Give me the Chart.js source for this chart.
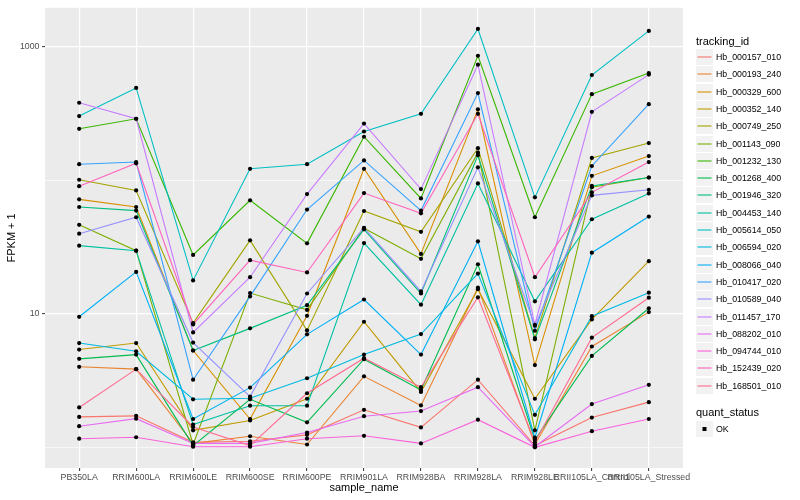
<!DOCTYPE html>
<html>
<head>
<meta charset="utf-8">
<script src="https://cdn.jsdelivr.net/npm/chart.js@4.4.0/dist/chart.umd.min.js"></script>
<style>
html,body{margin:0;padding:0;background:#fff;}
#wrap{position:relative;width:800px;height:500px;font-family:"Liberation Sans",Arial,Helvetica,sans-serif;}
#c{position:absolute;left:0;top:0;}
.ttl{position:absolute;font-size:11px;line-height:12px;color:#000;white-space:nowrap;}
.lab{position:absolute;font-size:8.8px;line-height:10px;color:#000;white-space:nowrap;}
</style>
</head>
<body>
<div id="wrap">
<canvas id="c" width="800" height="500"></canvas>
<div id="legend"></div>
</div>
<script>
const FONT = '"Liberation Sans", Arial, Helvetica, sans-serif';

const categories = ["PB350LA","RRIM600LA","RRIM600LE","RRIM600SE","RRIM600PE","RRIM901LA","RRIM928BA","RRIM928LA","RRIM928LE","RRII105LA_Control","RRII105LA_Stressed"];

const trackingIds = ["Hb_000157_010","Hb_000193_240","Hb_000329_600","Hb_000352_140","Hb_000749_250","Hb_001143_090","Hb_001232_130","Hb_001268_400","Hb_001946_320","Hb_004453_140","Hb_005614_050","Hb_006594_020","Hb_008066_040","Hb_010417_020","Hb_010589_040","Hb_011457_170","Hb_088202_010","Hb_094744_010","Hb_152439_020","Hb_168501_010"];

const colors = ["#F8766D","#EA8331","#D89000","#C09B00","#A3A500","#7CAE00","#39B600","#00BB4E","#00BF7D","#00C1A3","#00BFC4","#00BAE0","#00B0F6","#35A2FF","#9590FF","#C77CFF","#E76BF3","#FA62DB","#FF62BC","#FF6C91"];

// FPKM + 1 values, one array per tracking_id, in category order
const Hb_000157_010 = [1.69, 1.72, 1.09, 1.11, 1.24, 1.91, 1.41, 3.21, 1.03, 1.67, 2.18];
const Hb_000193_240 = [4.01, 3.85, 1.07, 1.21, 1.05, 3.40, 2.06, 15.7, 1.05, 5.69, 10.3];
const Hb_000329_600 = [72.0, 63.1, 5.31, 1.63, 9.66, 122, 28.1, 340, 4.13, 108, 152];
const Hb_000352_140 = [5.40, 6.04, 1.34, 1.59, 2.31, 8.72, 2.60, 15.3, 2.31, 9.07, 24.8];
const Hb_000749_250 = [101, 84.0, 8.51, 35.5, 7.51, 58.9, 41.1, 174, 6.59, 147, 190];
const Hb_001143_090 = [46.4, 29.7, 1.05, 14.3, 10.7, 43.8, 25.8, 161, 1.34, 88.9, 105];
const Hb_001232_130 = [243, 289, 27.6, 70.8, 33.7, 212, 73.2, 857, 52.9, 442, 636];
const Hb_001268_400 = [4.60, 4.95, 1.03, 2.29, 1.54, 4.57, 2.69, 23.5, 1.14, 4.84, 11.0];
const Hb_001946_320 = [63.1, 59.3, 5.31, 7.78, 11.6, 42.9, 14.2, 154, 6.44, 90.7, 105];
const Hb_004453_140 = [32.4, 29.7, 1.48, 2.05, 2.05, 33.9, 11.7, 94.7, 12.4, 51.1, 79.8];
const Hb_005614_050 = [303, 492, 17.8, 122, 132, 232, 315, 1360, 74.5, 615, 1315];
const Hb_006594_020 = [6.04, 5.24, 2.29, 2.33, 3.29, 4.95, 7.05, 20.0, 1.75, 9.60, 14.4];
const Hb_008066_040 = [9.50, 20.6, 1.63, 2.80, 7.02, 12.8, 4.95, 34.9, 1.18, 28.7, 53.5];
const Hb_010417_020 = [132, 137, 3.21, 13.5, 60.4, 141, 59.3, 450, 7.47, 128, 372];
const Hb_010589_040 = [39.8, 52.9, 6.09, 2.40, 14.2, 44.0, 14.7, 125, 8.14, 77.1, 85.0];
const Hb_011457_170 = [381, 289, 7.26, 18.8, 78.8, 266, 85.9, 735, 8.28, 326, 619];
const Hb_088202_010 = [1.44, 1.64, 1.07, 1.07, 1.29, 1.71, 1.87, 2.82, 1.01, 2.11, 2.94];
const Hb_094744_010 = [1.16, 1.19, 1.01, 1.01, 1.16, 1.22, 1.07, 1.61, 1.00, 1.32, 1.63];
const Hb_152439_020 = [90.4, 134, 8.33, 25.2, 20.4, 80.2, 56.6, 315, 18.8, 81.2, 137];
const Hb_168501_010 = [1.99, 3.85, 1.42, 1.03, 2.54, 4.65, 2.82, 13.3, 1.09, 6.63, 13.2];

const seriesValues = [Hb_000157_010, Hb_000193_240, Hb_000329_600, Hb_000352_140, Hb_000749_250, Hb_001143_090, Hb_001232_130, Hb_001268_400, Hb_001946_320, Hb_004453_140, Hb_005614_050, Hb_006594_020, Hb_008066_040, Hb_010417_020, Hb_010589_040, Hb_011457_170, Hb_088202_010, Hb_094744_010, Hb_152439_020, Hb_168501_010];

const yGridValues = [1, 10, 100, 1000];
const yLabelValues = [10, 1000];
const quantStatus = ["OK"];

const toXY = vals => vals.map((v, i) => ({x: i, y: v}));

const lineSets = seriesValues.map((vals, k) => ({
  label: trackingIds[k],
  data: toXY(vals),
  borderColor: colors[k],
  backgroundColor: colors[k],
  borderWidth: 1.1,
  pointRadius: 0,
  pointHoverRadius: 0,
  fill: false,
  tension: 0,
  order: 100 - k
}));
const pointSets = seriesValues.map((vals, k) => ({
  label: 'pts_' + trackingIds[k],
  data: toXY(vals),
  showLine: false,
  pointRadius: 2.1,
  pointHoverRadius: 2.1,
  pointBackgroundColor: '#000000',
  pointBorderColor: '#000000',
  pointBorderWidth: 0,
  order: 0
}));

const panelBg = {
  id: 'panelBg',
  beforeDraw(chart) {
    const {ctx, chartArea: a} = chart;
    ctx.save();
    ctx.fillStyle = '#EBEBEB';
    ctx.fillRect(a.left, a.top, a.right - a.left, a.bottom - a.top);
    ctx.restore();
  }
};

// legend key glyphs (boxes, line samples, point sample) drawn on the canvas
const legendKeys = {
  id: 'legendKeys',
  afterDraw(chart) {
    const ctx = chart.ctx;
    ctx.save();
    trackingIds.forEach((id, i) => {
      const top = Math.round(49 + 17.3 * i);
      ctx.fillStyle = '#F2F2F2';
      ctx.fillRect(696, top, 17, 16);
      ctx.strokeStyle = colors[i];
      ctx.lineWidth = 1.1;
      ctx.beginPath();
      ctx.moveTo(697.5, top + 8);
      ctx.lineTo(711.5, top + 8);
      ctx.stroke();
    });
    quantStatus.forEach((q, i) => {
      const top = Math.round(421 + 17.3 * i);
      ctx.fillStyle = '#F2F2F2';
      ctx.fillRect(696, top, 17, 16);
      ctx.fillStyle = '#000000';
      ctx.fillRect(702.5, top + 6, 4, 4);
    });
    ctx.restore();
  }
};

new Chart(document.getElementById('c'), {
  type: 'line',
  data: {datasets: [...lineSets, ...pointSets]},
  plugins: [panelBg, legendKeys],
  options: {
    responsive: false,
    animation: false,
    devicePixelRatio: 1,
    layout: {padding: {left: 0, top: 5, right: 117, bottom: 0}},
    plugins: {legend: {display: false}, tooltip: {enabled: false}},
    scales: {
      x: {
        type: 'linear', min: -0.6, max: 10.6,
        afterBuildTicks: s => { s.ticks = categories.map((c, i) => ({value: i})); },
        afterFit: s => { s.height = 32; },
        ticks: {
          callback: v => categories[v],
          autoSkip: false, maxRotation: 0, minRotation: 0, padding: 1.5,
          color: '#4D4D4D', font: {size: 8.8, family: FONT}
        },
        grid: {color: '#FFFFFF', lineWidth: 1.2, tickLength: 3, tickColor: '#333333', tickWidth: 1},
        border: {display: false},
        title: {display: true, text: 'sample_name', color: '#000', font: {size: 11, family: FONT}, padding: {top: 0, bottom: 5.4}}
      },
      y: {
        type: 'logarithmic', min: 0.708, max: 1960,
        afterBuildTicks: s => { s.ticks = yGridValues.map(v => ({value: v})); },
        afterFit: s => { s.width = 45; },
        ticks: {
          callback: v => yLabelValues.includes(v) ? String(v) : '',
          autoSkip: false, padding: 2.5,
          color: '#4D4D4D', font: {size: 8.8, family: FONT}
        },
        grid: {
          color: '#FFFFFF',
          lineWidth: ctx => (ctx.tick && yLabelValues.includes(ctx.tick.value)) ? 1.2 : 0.6,
          tickLength: 3,
          tickColor: ctx => (ctx.tick && yLabelValues.includes(ctx.tick.value)) ? '#333333' : 'rgba(0,0,0,0)',
          tickWidth: 1
        },
        border: {display: false},
        title: {display: true, text: 'FPKM + 1', color: '#000', font: {size: 11, family: FONT}, padding: {top: 5.4, bottom: 0}}
      }
    }
  }
});

// legend text
(function buildLegend() {
  const lg = document.getElementById('legend');
  let html = '<div class="ttl" style="left:696px;top:35px">tracking_id</div>';
  trackingIds.forEach((id, i) => {
    const top = Math.round(49 + 17.3 * i);
    html += '<div class="lab" style="left:716px;top:' + (top + 3) + 'px">' + id + '</div>';
  });
  html += '<div class="ttl" style="left:696px;top:406px">quant_status</div>';
  quantStatus.forEach((q, i) => {
    const top = Math.round(421 + 17.3 * i);
    html += '<div class="lab" style="left:716px;top:' + (top + 3) + 'px">' + q + '</div>';
  });
  lg.innerHTML = html;
})();
</script>
</body>
</html>
